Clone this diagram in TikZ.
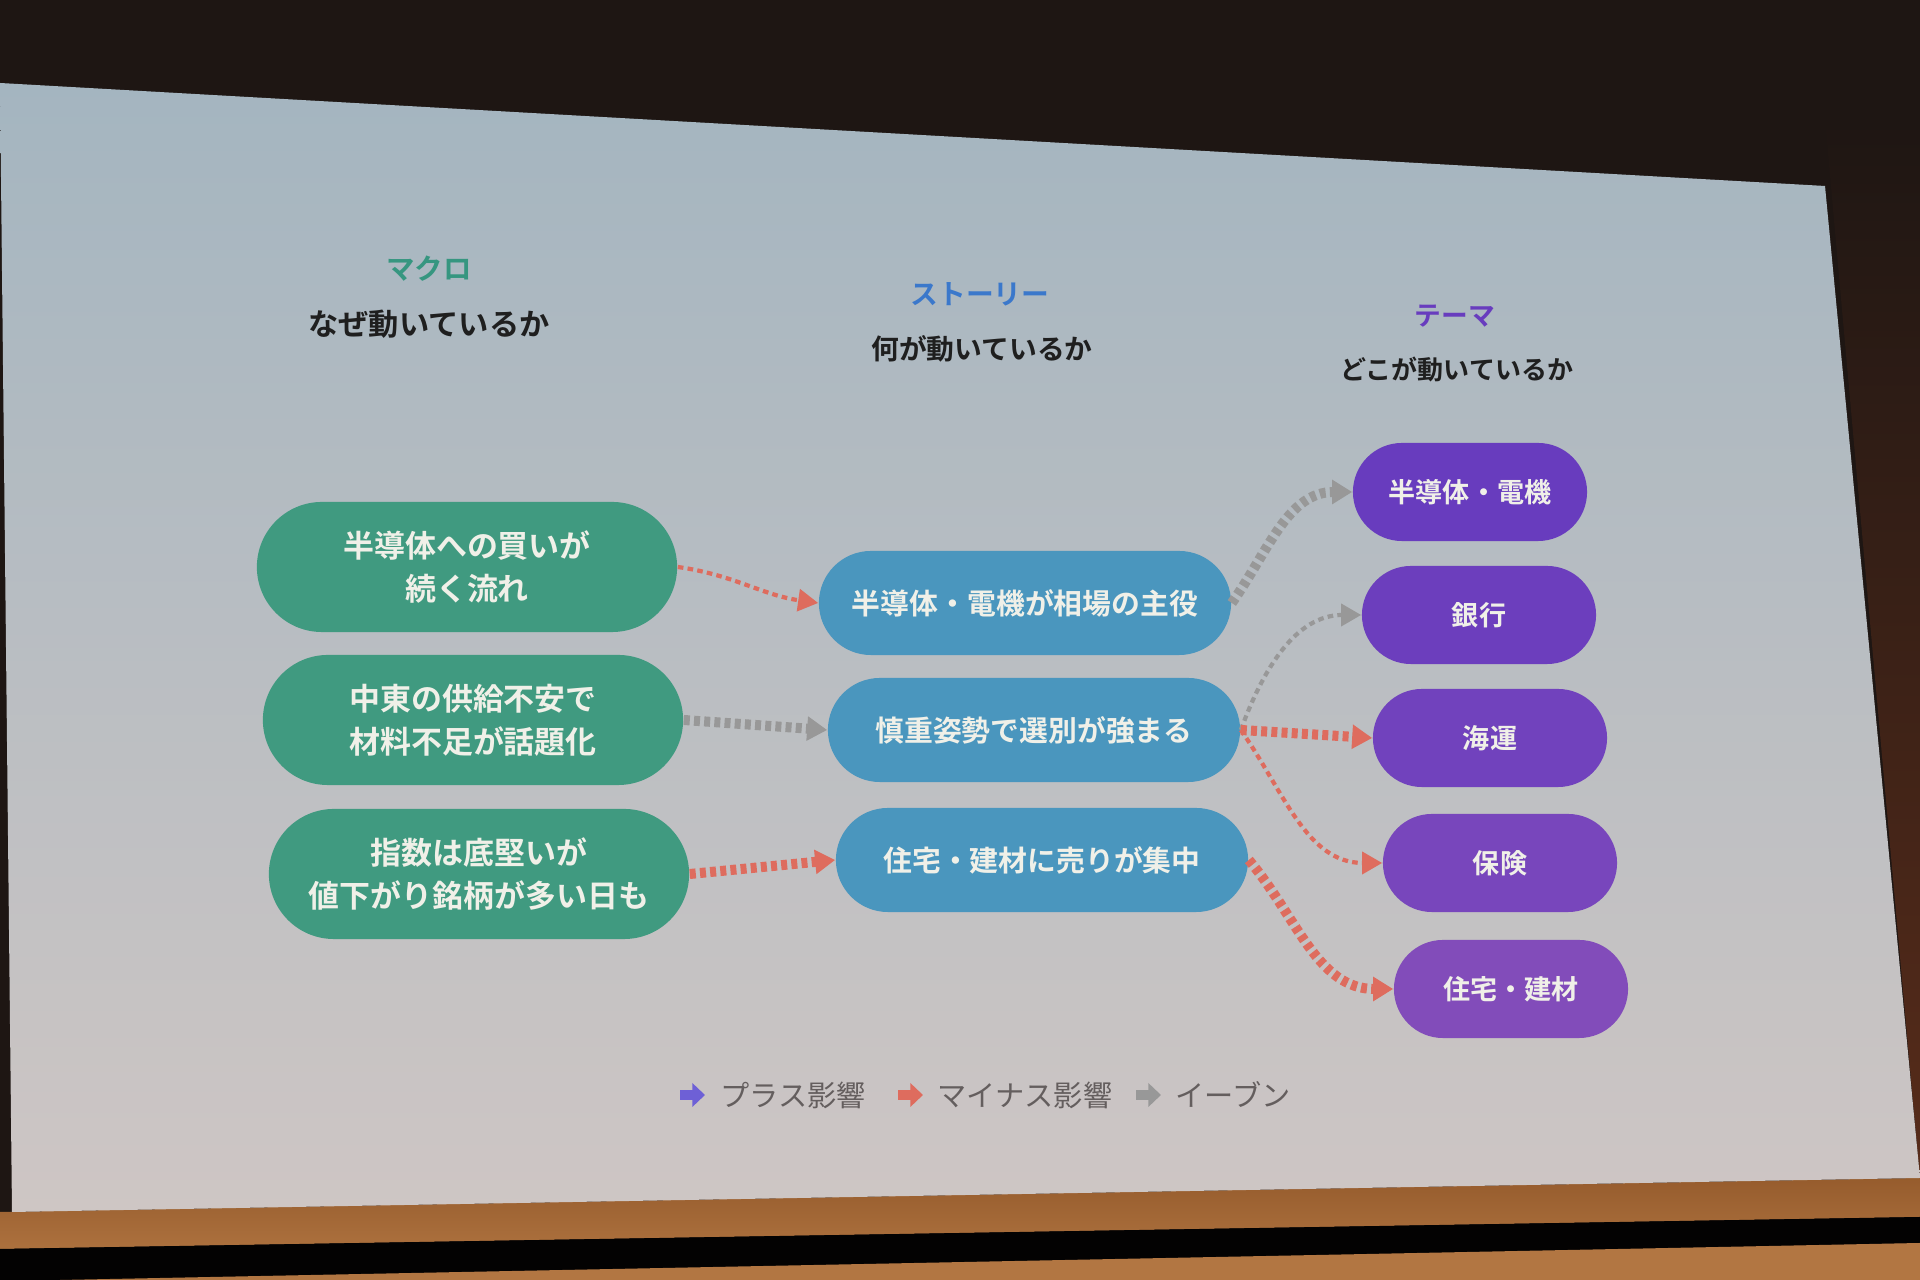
\documentclass[tikz,border=0pt]{standalone}
\usepackage{fontspec}
\setmainfont{Noto Sans CJK JP}[BoldFont={Noto Sans CJK JP Bold}]
\usetikzlibrary{arrows.meta}

\definecolor{roomdark}{RGB}{30,22,19}
\definecolor{wallred}{RGB}{88,44,26}
\definecolor{woodtop}{RGB}{150,92,45}
\definecolor{woodlow}{RGB}{178,118,66}
\definecolor{slidetop}{RGB}{164,181,192}
\definecolor{slidemid}{RGB}{188,193,198}
\definecolor{slidelow}{RGB}{206,198,196}
\definecolor{macrogreen}{RGB}{64,154,128}
\definecolor{storyblue}{RGB}{74,150,190}
\definecolor{themeA}{RGB}{104,60,190}
\definecolor{themeB}{RGB}{130,76,186}
\definecolor{nodetext}{RGB}{240,240,232}
\definecolor{minusred}{RGB}{222,108,94}
\definecolor{evengray}{RGB}{152,152,152}
\definecolor{plusblue}{RGB}{110,96,214}
\definecolor{keygray}{RGB}{100,94,94}

\tikzset{
  macro/.style={fill=macrogreen, text=nodetext, rounded corners=0.65cm,
    minimum width=4.2cm, minimum height=1.3cm, align=center,
    font=\bfseries\fontsize{8.8}{12.2}\selectfont},
  story/.style={fill=storyblue, text=nodetext, rounded corners=0.52cm,
    minimum width=4.12cm, minimum height=1.04cm,
    font=\bfseries\fontsize{8.2}{10}\selectfont},
  theme/.style={text=nodetext, rounded corners=0.49cm,
    minimum width=2.34cm, minimum height=0.98cm,
    font=\bfseries\fontsize{7.7}{9}\selectfont},
  head/.style={font=\bfseries\fontsize{#1}{9}\selectfont},
  sub/.style={text=black!88, font=\bfseries\fontsize{#1}{10}\selectfont},
  thickflow/.style={line width=2.85pt, dash pattern=on 1.7pt off 1.2pt,
    -{Triangle[length=5.7pt,width=6.6pt]}},
  thinflow/.style={line width=1.2pt, dash pattern=on 1.6pt off 1.2pt,
    -{Triangle[length=5.7pt,width=6.2pt]}},
  keyarrow/.style={line width=2.6pt, -{Triangle[length=3.6pt,width=6.6pt]}},
  keytext/.style={text=keygray, anchor=west, inner sep=0pt,
    font=\fontsize{8.3}{9}\selectfont}
}

\begin{document}
\begin{tikzpicture}[x=0.01cm, y=-0.01cm]
  \useasboundingbox (0,0) rectangle (1920,1280);
  % room and screen
  \fill[roomdark] (0,0) rectangle (1920,1280);
  \shade[top color=roomdark, bottom color=wallred] (1825,120) -- (1920,120) -- (1920,1180) -- cycle;
  \shade[top color=woodtop, bottom color=woodlow!80!woodtop] (0,1212) -- (1920,1178) -- (1920,1217) -- (0,1249) -- cycle;
  \fill[black!90!roomdark] (0,1249) -- (1920,1217) -- (1920,1243) -- (0,1284) -- cycle;
  \fill[woodlow] (60,1280) -- (1920,1243) -- (1920,1280) -- cycle;
  \shade[top color=slidetop, middle color=slidemid, bottom color=slidelow]
    (0,83) -- (1825,186) -- (1920,1178) -- (12,1212) -- cycle;

  % column heads
  \node[head=8.1, text=macrogreen!85!teal] (macroHead) at (429,269) {マクロ};
  \node[sub=8.6] (macroSub) at (429,324) {なぜ動いているか};
  \node[head=7.9, text=storyblue!80!blue] (storyHead) at (980,294) {ストーリー};
  \node[sub=7.9] (storySub) at (982,349) {何が動いているか};
  \node[head=7.6, text=themeA] (themeHead) at (1455,316) {テーマ};
  \node[sub=7.4] (themeSub) at (1457,370) {どこが動いているか};

  % macro
  \node[macro] (whySemi) at (467,567) {半導体への買いが\\続く流れ};
  \node[macro] (whyMideast) at (473,720) {中東の供給不安で\\材料不足が話題化};
  \node[macro] (whyIndex) at (479,874) {指数は底堅いが\\値下がり銘柄が多い日も};

  % story
  \node[story] (whatSemi) at (1025,603) {半導体・電機が相場の主役};
  \node[story] (whatCare) at (1034,730) {慎重姿勢で選別が強まる};
  \node[story] (whatHouse) at (1042,860) {住宅・建材に売りが集中};

  % theme
  \node[theme, fill=themeA] (whereSemi) at (1470,492) {半導体・電機};
  \node[theme, fill=themeB!15!themeA] (whereBank) at (1479,615) {銀行};
  \node[theme, fill=themeB!35!themeA] (whereShip) at (1490,738) {海運};
  \node[theme, fill=themeB!60!themeA] (whereIns) at (1500,863) {保険};
  \node[theme, fill=themeB] (whereHouse) at (1511,989) {住宅・建材};

  % links
  \draw[thinflow, minusred] (whySemi.east) to[out=-8,in=172] (whatSemi.west);
  \draw[thickflow, evengray] (whyMideast.east) -- (whatCare.west);
  \draw[thickflow, minusred] (whyIndex.east) -- (whatHouse.west);
  \draw[thickflow, evengray] (whatSemi.east) to[out=55,in=180] (whereSemi.west);
  \draw[thinflow, evengray] (whatCare.east) to[out=70,in=180] (whereBank.west);
  \draw[thickflow, minusred] (whatCare.east) -- (whereShip.west);
  \draw[thinflow, minusred] (whatCare.east) to[out=-55,in=180] (whereIns.west);
  \draw[thickflow, minusred] (whatHouse.east) to[out=-50,in=180] (whereHouse.west);

  % key
  \coordinate (keyPlus) at (680,1095);
  \coordinate (keyMinus) at (898,1095);
  \coordinate (keyEven) at (1136,1095);
  \draw[keyarrow, plusblue] (keyPlus) -- ++(25,0);
  \node[keytext] (keyPlusText) at (720,1095) {プラス影響};
  \draw[keyarrow, minusred] (keyMinus) -- ++(25,0);
  \node[keytext] (keyMinusText) at (937,1095) {マイナス影響};
  \draw[keyarrow, evengray] (keyEven) -- ++(25,0);
  \node[keytext] (keyEvenText) at (1175,1095) {イーブン};
\end{tikzpicture}
\end{document}
